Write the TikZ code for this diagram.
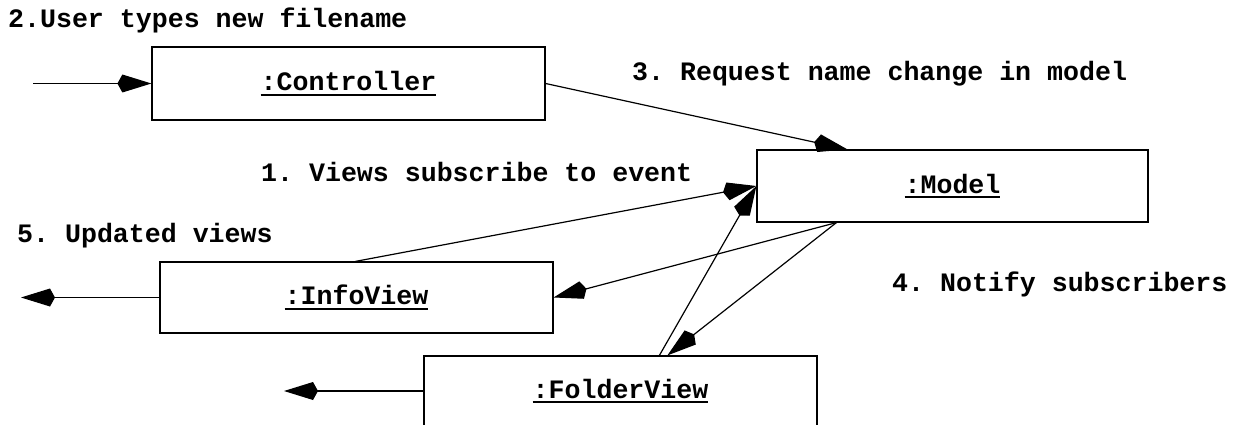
\documentclass[tikz,border=0pt]{standalone}
\usepackage{fontspec}
\setmonofont{Liberation Mono}
\usetikzlibrary{arrows.meta,calc}
\newcommand\myul[1]{\leavevmode\vtop{\hbox{#1}\kern3pt\hrule height 2pt}}
\tikzset{
  obj/.style={draw=black, line width=1.2pt, inner sep=0pt, minimum width=393pt,
    font=\ttfamily\bfseries\fontsize{26.6}{30}\selectfont},
  lbl/.style={anchor=base west, inner sep=0pt, font=\ttfamily\bfseries\fontsize{26.6}{30}\selectfont},
  msg/.style={line width=1.2pt, -{Kite[length=34pt,width=18pt,inset=5pt]}}
}
\begin{document}
\begin{tikzpicture}[x=1pt,y=-1pt]
\useasboundingbox (0,0) rectangle (1234,425);
\clip (0,0) rectangle (1234,425);
% objects
\node[obj, minimum height=73pt] (ctrl) at (348.5,83.5) {\myul{:Controller}};
\node[obj, minimum height=72pt, minimum width=391pt] (model) at (952.5,186) {\myul{:Model}};
\node[obj, minimum height=71pt] (info) at (356.5,297.5) {\myul{:InfoView}};
\node[obj, minimum height=70pt] (folder) at (620.5,391) {\myul{:FolderView}};
% labels
\node[lbl] (l2) at (8,28) {2.User types new filename};
\node[lbl] (l3) at (632,81) {3. Request name change in model};
\node[lbl] (l1) at (261,182) {1. Views subscribe to event};
\node[lbl] (l5) at (17,242) {5. Updated views};
\node[lbl] (l4) at (892,291) {4. Notify subscribers};
% free ends
\coordinate (in) at (33,83.5);
\coordinate (out1) at (21,297.5);
\coordinate (out2) at (284,391);
% connectors
\draw[msg] (in) -- (ctrl.west);
\draw[msg] (ctrl.east) -- ($(model.north west)+(91,0)$);
\draw[msg] ($(info.north west)+(196,0)$) -- (model.west);
\draw[msg] ($(folder.north west)+(236,0)$) -- (model.west);
\draw[msg] ($(model.south west)+(80,0)$) -- (info.east);
\draw[msg] ($(model.south west)+(80,0)$) -- ($(folder.north west)+(244,0)$);
\draw[msg] (info.west) -- (out1);
\draw[msg] (folder.west) -- (out2);
\end{tikzpicture}
\end{document}
